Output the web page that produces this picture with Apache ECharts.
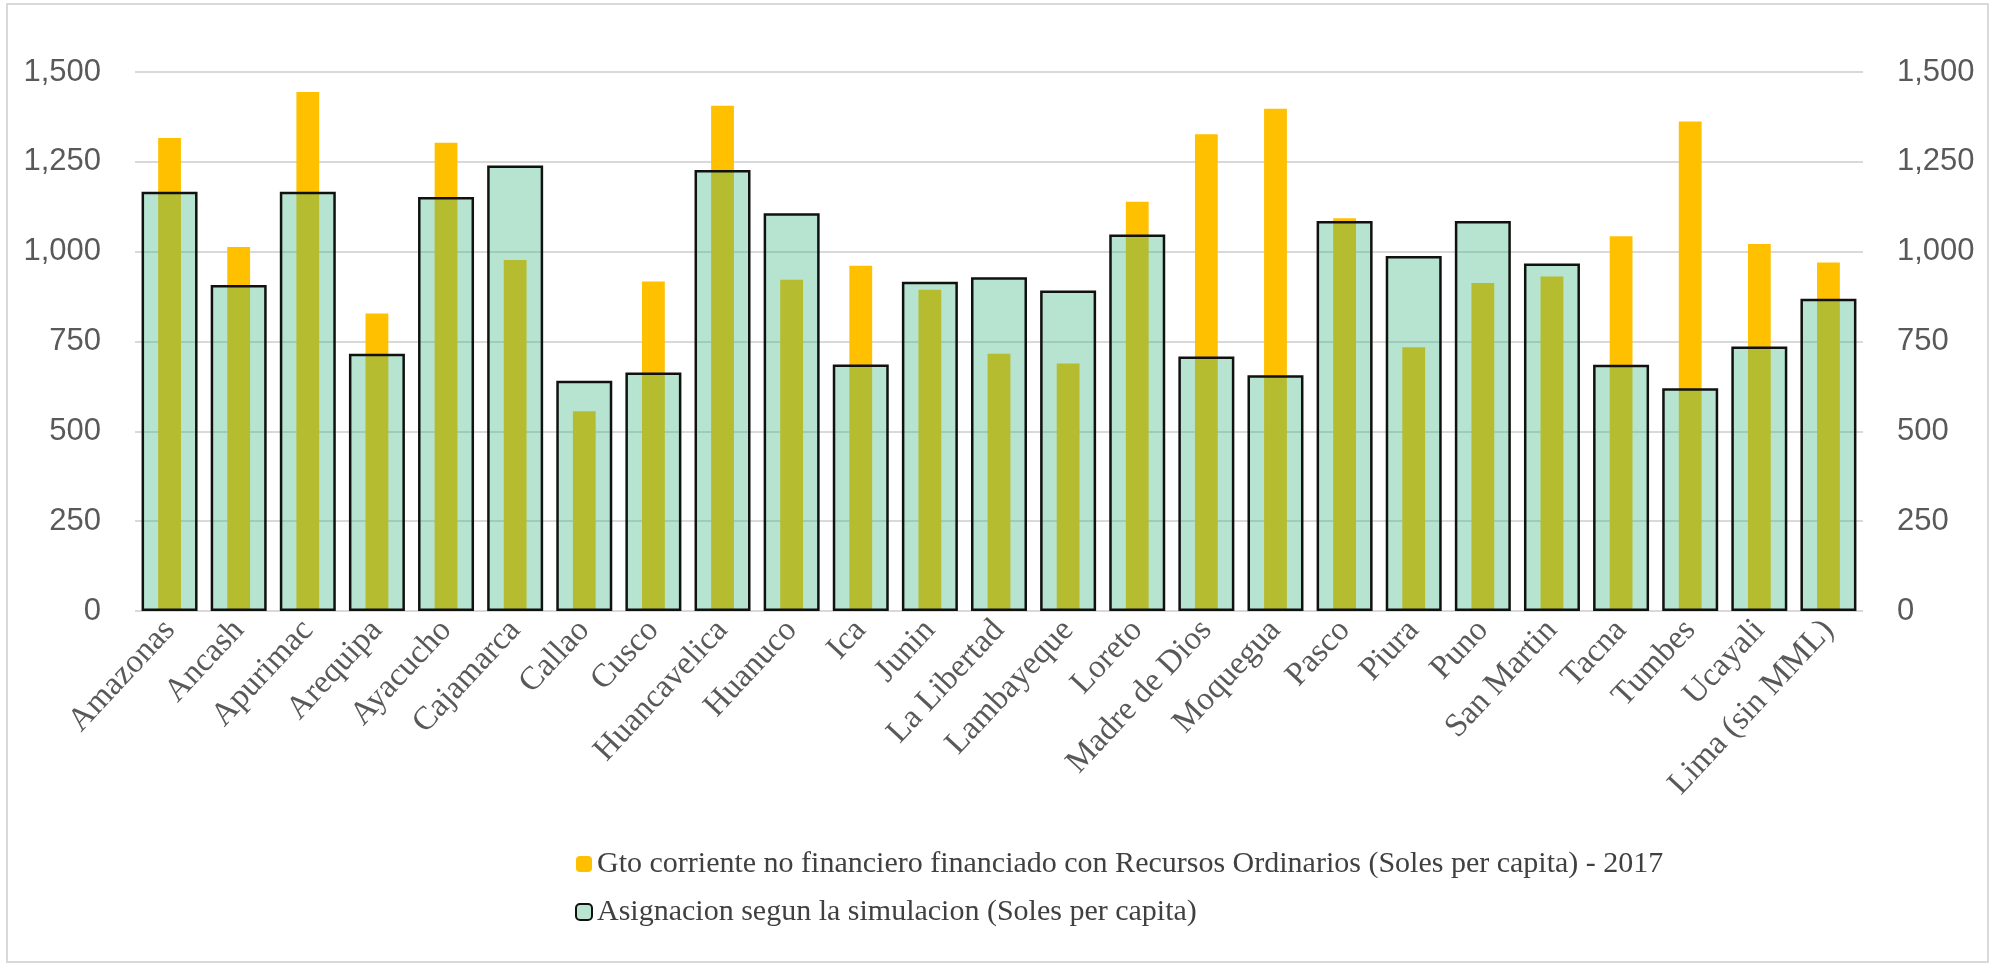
<!DOCTYPE html>
<html>
<head>
<meta charset="utf-8">
<script src="https://cdn.jsdelivr.net/npm/echarts@6/dist/echarts.min.js"></script>
<style>
html,body{margin:0;padding:0;background:#fff;}
#chart{width:1997px;height:966px;}
</style>
</head>
<body>
<div id="chart"></div>
<script>
var regiones = ['Amazonas','Ancash','Apurimac','Arequipa','Ayacucho','Cajamarca','Callao','Cusco',
	'Huancavelica','Huanuco','Ica','Junin','La Libertad','Lambayeque','Loreto','Madre de Dios',
	'Moquegua','Pasco','Piura','Puno','San Martin','Tacna','Tumbes','Ucayali','Lima (sin MML)'];

// Gto corriente no financiero (RO) 2017, soles per capita
var gasto = [1316,1013,1444,828,1303,977,556,917,1406,922,961,894,716,689,1139,1327,1398,1093,734,913,931,1043,1362,1021,970];

// Asignacion segun la simulacion, soles per capita
var asignacion = [1167,907,1167,716,1152,1240,641,664,1227,1107,686,916,929,892,1048,708,656,1085,988,1085,967,685,620,736,869];

var nombreGasto = 'Gto corriente no financiero financiado con Recursos Ordinarios (Soles per capita) - 2017';
var nombreAsig = 'Asignacion segun la simulacion (Soles per capita)';

var chart = echarts.init(document.getElementById('chart'));

function fmt(v){
	return v.toLocaleString('en-US');
}

var yLabel = {
	fontFamily:'Liberation Sans',
	fontSize:31,
	color:'#595959',
	margin:34,
	formatter:fmt
};

var option = {
	animation:false,
	backgroundColor:'#fff',
	graphic:[{
		type:'rect',
		shape:{x:7,y:4,width:1981,height:958},
		style:{fill:'none',stroke:'#d9d9d9',lineWidth:2},
		silent:true
	}],
	grid:{
		left:135,
		right:134,
		top:72,
		bottom:355
	},
	legend:{
		orient:'vertical',
		left:570,
		top:844,
		itemWidth:16,
		itemHeight:16,
		itemGap:18,
		textStyle:{
			fontFamily:'Liberation Serif',
			fontSize:30,
			color:'#404040'
		},
		data:[
			{name:nombreGasto,itemStyle:{color:'#FFC000',borderWidth:0}},
			{name:nombreAsig,itemStyle:{color:'#b9e4d0',borderColor:'#111',borderWidth:2}}
		]
	},
	xAxis:[{
		type:'category',
		data:regiones,
		axisLine:{show:false},
		axisTick:{show:false},
		axisLabel:{
			interval:0,
			rotate:47,
			margin:14,
			fontFamily:'Liberation Serif',
			fontSize:33,
			color:'#595959'
		}
	},{
		type:'category',
		data:regiones,
		show:false
	}],
	yAxis:[{
		type:'value',
		min:0,
		max:1500,
		interval:250,
		axisLabel:yLabel,
		axisLine:{show:false},
		axisTick:{show:false},
		splitLine:{lineStyle:{color:'#d9d9d9',width:2}}
	},{
		type:'value',
		position:'right',
		min:0,
		max:1500,
		interval:250,
		axisLabel:yLabel,
		axisLine:{show:false},
		axisTick:{show:false},
		splitLine:{show:false}
	}],
	series:[{
		name:nombreGasto,
		type:'bar',
		xAxisIndex:0,
		yAxisIndex:0,
		barWidth:'33%',
		itemStyle:{color:'#FFC000'},
		data:gasto,
		z:2
	},{
		name:nombreAsig,
		type:'bar',
		xAxisIndex:1,
		yAxisIndex:1,
		barWidth:'81%',
		itemStyle:{
			color:'rgba(57,181,127,0.37)',
			borderColor:'#111',
			borderWidth:2.5
		},
		data:asignacion,
		z:3
	}]
};
chart.setOption(option);
</script>
</body>
</html>
